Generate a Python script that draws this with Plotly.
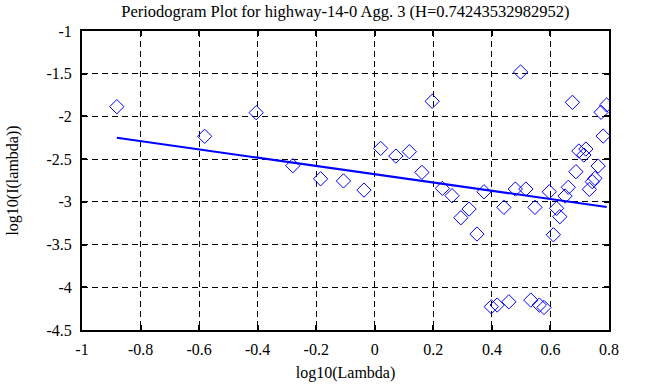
import plotly.graph_objects as go

# Data
log_lambda = [-0.881, -0.581, -0.405, -0.280, -0.185, -0.107, -0.037, 0.020, 0.072, 0.118,
              0.161, 0.196, 0.231, 0.264, 0.294, 0.322, 0.349, 0.373, 0.398, 0.418,
              0.441, 0.458, 0.480, 0.498, 0.516, 0.533, 0.547, 0.562, 0.578, 0.596,
              0.610, 0.621, 0.632, 0.650, 0.661, 0.675, 0.687, 0.697, 0.714, 0.721,
              0.733, 0.743, 0.752, 0.763, 0.773, 0.780, 0.792]
log_I = [-1.886, -2.233, -1.956, -2.577, -2.730, -2.755, -2.862, -2.374, -2.464, -2.413,
         -2.655, -1.823, -2.842, -2.928, -3.186, -3.084, -3.377, -2.882, -4.228, -4.208,
         -3.064, -4.170, -2.850, -1.480, -2.850, -4.150, -3.064, -4.208, -4.236, -2.882,
         -3.385, -3.076, -3.174, -2.932, -2.830, -1.835, -2.647, -2.405, -2.452, -2.382,
         -2.854, -2.764, -2.725, -2.581, -1.952, -2.230, -1.866]

fit_x = [-0.881, 0.792]
fit_y = [-2.249, -3.061]

x_ticks = [-1, -0.8, -0.6, -0.4, -0.2, 0, 0.2, 0.4, 0.6, 0.8]
x_labels = ["-1", "-0.8", "-0.6", "-0.4", "-0.2", "0", "0.2", "0.4", "0.6", "0.8"]
y_ticks = [-1, -1.5, -2, -2.5, -3, -3.5, -4, -4.5]
y_labels = ["-1", "-1.5", "-2", "-2.5", "-3", "-3.5", "-4", "-4.5"]

title_text = "Periodogram Plot for highway-14-0 Agg. 3 (H=0.74243532982952)"

FONT = "Liberation Serif"

fig = go.Figure()
fig.add_trace(go.Scatter(
    x=log_lambda, y=log_I, mode="markers",
    marker=dict(symbol="diamond-open", size=11, color="#0000ff", line=dict(width=1, color="#0000ff")),
    showlegend=False, hoverinfo="skip"))
fig.add_trace(go.Scatter(
    x=fit_x, y=fit_y, mode="lines",
    line=dict(color="#0000ff", width=2),
    showlegend=False, hoverinfo="skip"))

axis_common = dict(
    showline=True, linecolor="black", linewidth=2, mirror="ticks",
    ticks="inside", ticklen=5, tickwidth=2, tickcolor="black",
    showgrid=True, gridcolor="black", gridwidth=1, griddash="6px,4px",
    zeroline=False, automargin=False,
    tickfont=dict(family=FONT, size=16, color="black"),
)

fig.update_layout(
    width=658, height=387,
    margin=dict(l=82, r=49, t=31, b=57),
    paper_bgcolor="white", plot_bgcolor="white",
    font=dict(family=FONT, size=16, color="black"),
    title=dict(text=title_text, x=0.525, xanchor="center", xref="container",
               y=1 - 11 / 387, yref="container", yanchor="middle",
               font=dict(family=FONT, size=16.5, color="black")),
    xaxis=dict(range=[-1, 0.8], tickmode="array", tickvals=x_ticks, ticktext=x_labels,
               ticklabelstandoff=4,
               title=dict(text="log10(Lambda)", standoff=10, font=dict(family=FONT, size=16)),
               **axis_common),
    yaxis=dict(range=[-4.5, -1], tickmode="array", tickvals=y_ticks, ticktext=y_labels,
               ticklabelstandoff=5,
               title=dict(text="log10(I(lambda))", standoff=24, font=dict(family=FONT, size=16)),
               **axis_common),
)

fig.write_html("out.html", config={"displayModeBar": False},
               post_script="document.body.style.margin='0px';")
